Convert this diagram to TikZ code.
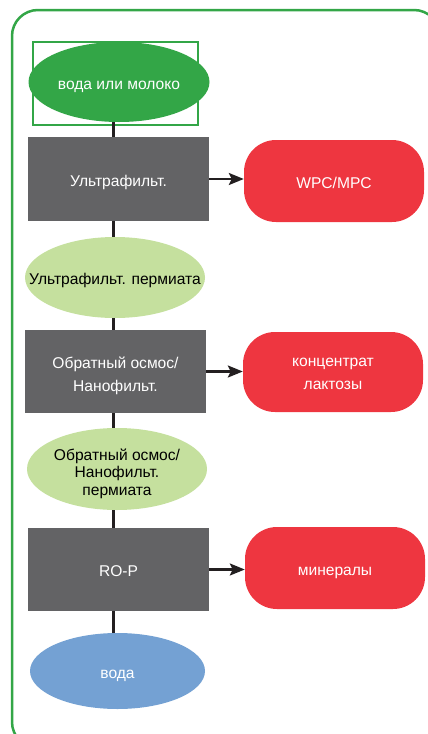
\documentclass[tikz,border=0pt]{standalone}
\usepackage{fontspec}
\setmainfont{Liberation Sans}
\usetikzlibrary{shapes.geometric,arrows.meta}

\definecolor{flowgreen}{RGB}{51,166,71}
\definecolor{flowgray}{RGB}{99,99,101}
\definecolor{flowred}{RGB}{238,54,64}
\definecolor{flowlight}{RGB}{197,224,158}
\definecolor{flowblue}{RGB}{116,161,211}
\definecolor{flowink}{RGB}{35,31,32}

\tikzset{
  every node/.style={text height=14pt, text depth=0pt},
  procbox/.style={rectangle, fill=flowgray, text=white, minimum width=181pt,
    minimum height=84pt, inner sep=0pt, align=center},
  prodbox/.style={rectangle, rounded corners=32pt, fill=flowred, text=white,
    minimum width=180pt, minimum height=82pt, inner sep=0pt, align=center},
  oval/.style={ellipse, inner xsep=-40pt, inner ysep=0pt, align=center},
  permoval/.style={oval, fill=flowlight, text=black, minimum width=180pt,
    minimum height=81pt},
  link/.style={flowink, line width=3pt},
  outlet/.style={flowink, line width=2.5pt, -{Stealth[length=15pt,width=12pt,inset=3pt]}}
}

\begin{document}
\begin{tikzpicture}[x=1pt,y=-1pt,font=\fontsize{15.6}{23}\selectfont]
\useasboundingbox (0,0) rectangle (428,734);
\begin{scope}
\clip (0,0) rectangle (428,734);
\draw[flowgreen, line width=2.5pt, rounded corners=26pt] (12,10) rectangle (440,748);
\end{scope}

\coordinate (spine) at (113,0);

\draw[flowgreen, line width=2pt] (33,42) rectangle (198,125);
\node[oval, fill=flowgreen, text=white, minimum width=181pt, minimum height=80pt]
  (src) at (119,82) {вода или молоко};

\node[procbox] (uf) at (118.5,179) {Ультрафильт.};
\node[prodbox] (wpc) at (334,181) {WPC/MPC};

\node[permoval] (ufp) at (115,277.5) {Ультрафильт. пермиата};

\node[procbox, minimum height=83pt, text height=39pt] (ro) at (115.5,371.5)
  {Обратный осмос/\\Нанофильт.};
\node[prodbox, minimum height=80pt, text height=34pt] (lac) at (333,372)
  {концентрат\\лактозы};

\node[permoval, minimum height=82pt, text height=52pt,
  font=\fontsize{15.6}{17.5}\selectfont] (rop) at (117,469)
  {Обратный осмос/\\Нанофильт.\\пермиата};

\node[procbox, minimum height=83pt] (rp) at (118.5,569.5) {RO-P};
\node[prodbox] (min) at (335,568) {минералы};

\node[oval, fill=flowblue, text=white, minimum width=175pt, minimum height=76pt]
  (wat) at (117.5,671) {вода};

% spine
\draw[link] (src.south -| spine) -- (uf.north -| spine);
\draw[link] (uf.south -| spine) -- (ufp.north -| spine);
\draw[link] (ufp.south -| spine) -- (ro.north -| spine);
\draw[link] (ro.south -| spine) -- (rop.north -| spine);
\draw[link] (rop.south -| spine) -- (rp.north -| spine);
\draw[link] (rp.south -| spine) -- (wat.north -| spine);

% outlets
\draw[outlet] (uf.east) -- (uf.east -| wpc.west);
\draw[outlet] (ro.east) -- (ro.east -| lac.west);
\draw[outlet] (rp.east) -- (rp.east -| min.west);
\end{tikzpicture}
\end{document}
